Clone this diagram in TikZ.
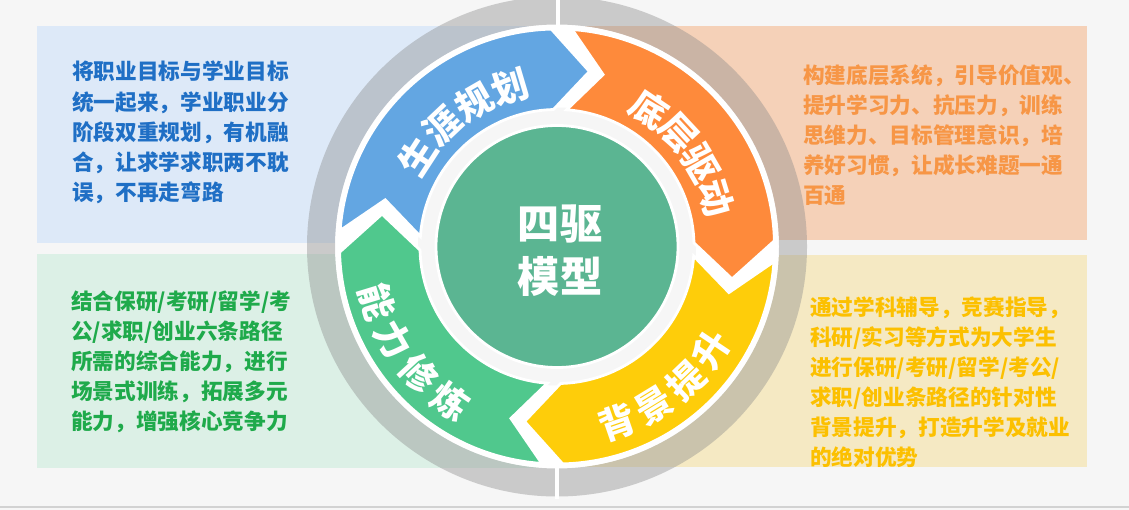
\documentclass[tikz,border=0pt]{standalone}
\usepackage{fontspec}
\newfontfamily\cjk{Noto Sans CJK SC}
\usetikzlibrary{positioning}
\definecolor{pagebg}{HTML}{F6F6F6}
\definecolor{boxblue}{HTML}{DDE9F8}
\definecolor{boxorange}{HTML}{F5D1B8}
\definecolor{boxgreen}{HTML}{DCF0E6}
\definecolor{boxyellow}{HTML}{F5E9C3}
\definecolor{txtblue}{HTML}{1F6FC5}
\definecolor{txtorange}{HTML}{F79646}
\definecolor{txtgreen}{HTML}{1FAA4B}
\definecolor{txtyellow}{HTML}{FCC000}
\definecolor{segblue}{HTML}{63A6E2}
\definecolor{segorange}{HTML}{FE8A3B}
\definecolor{segyellow}{HTML}{FECD0A}
\definecolor{seggreen}{HTML}{50C88D}
\definecolor{discgreen}{HTML}{5BB592}
\definecolor{ringgray}{HTML}{8A8A8A}

\begin{document}
\begin{tikzpicture}[x=0.025cm,y=0.025cm,
  every node/.style={font=\cjk\bfseries},
  desc/.style={anchor=west,align=left,inner sep=0pt,font=\cjk\bfseries\fontsize{15.4}{21.4}\selectfont},
  seg/.style={draw=white,line width=2pt},
  lbl/.style={text=white,inner sep=0pt,font=\cjk\bfseries\fontsize{26}{26}\selectfont}
]
  \useasboundingbox (0,0) rectangle (1129,-510);
  \fill[pagebg] (0,0) rectangle (1129,-510);
  \draw[gray!35,line width=1pt] (0,-507) -- (1129,-507);

  % four text panels
  \fill[boxblue] (37,-26) rectangle (557,-243);
  \fill[boxorange] (557,-26) rectangle (1087,-240);
  \fill[boxgreen] (37,-254) rectangle (557,-468);
  \fill[boxyellow] (557,-255) rectangle (1087,-467);

  \node[desc,text=txtblue] (tplan) at (72,-132.5)
    {将职业目标与学业目标\\统一起来，学业职业分\\阶段双重规划，有机融\\合，让求学求职两不耽\\误，不再走弯路};
  \node[desc,text=txtorange] (tbase) at (803,-135)
    {构建底层系统，引导价值观、\\提升学习力、抗压力，训练\\思维力、目标管理意识，培\\养好习惯，让成长难题一通\\百通};
  \node[desc,text=txtgreen] (tskill) at (71,-362)
    {结合保研/考研/留学/考\\公/求职/创业六条路径\\所需的综合能力，进行\\场景式训练，拓展多元\\能力，增强核心竞争力};
  \node[desc,text=txtyellow] (tback) at (810,-382)
    {通过学科辅导，竞赛指导，\\科研/实习等方式为大学生\\进行保研/考研/留学/考公/\\求职/创业条路径的针对性\\背景提升，打造升学及就业\\的绝对优势};

  \begin{scope}[shift={(557,-246.5)}]
    % ring
    \fill[white] (0,0) circle[radius=222];
    \fill[ringgray,opacity=.4,even odd rule] (0,0) circle[radius=250] (0,0) circle[radius=222];
    \fill[white] (-1,221) rectangle (3,252);
    \fill[white] (-2,-221) rectangle (2,-252);
    \fill[gray!7] (0,0) circle[radius=139];

    % arrow segments
    \foreach \col/\ta/\hd in {segblue/175.8/91.5,segorange/86/1.5,segyellow/-4/-88.5,seggreen/-94/-178.5}
      \filldraw[seg,fill=\col] (\ta:217.5) arc[start angle=\ta,end angle=\hd,radius=217.5]
        -- ({\hd-12}:178) -- (\hd:137) arc[start angle=\hd,end angle=\ta,radius=137]
        -- ({\ta-11}:178) -- cycle;

    \filldraw[fill=discgreen,draw=white,line width=2pt] (0,0) circle[radius=121];
    \node[text=white,align=center,font=\cjk\bfseries\fontsize{30}{37.6}\selectfont] (model) at (3,-4)
      {四驱\\模型};

    % segment labels
    \foreach \ch [count=\i] in {生,涯,规,划}
      \node[lbl,rotate={147-13.5*(\i-1)-90}] (lb\i) at ({147-13.5*(\i-1)}:166) {\ch};
    \foreach \ch [count=\i] in {底,层,驱,动}
      \node[lbl,rotate={56-13*(\i-1)-90}] (lo\i) at ({56-13*(\i-1)}:166) {\ch};
    \foreach \ch [count=\i] in {背,景,提,升}
      \node[lbl,rotate={-71+12.4*(\i-1)+90}] (ly\i) at ({-71+12.4*(\i-1)}:186) {\ch};
    \foreach \ch [count=\i] in {能,力,修,炼}
      \node[lbl,rotate={197+12.8*(\i-1)+90}] (lg\i) at ({197+12.8*(\i-1)}:188) {\ch};
  \end{scope}
\end{tikzpicture}
\end{document}
